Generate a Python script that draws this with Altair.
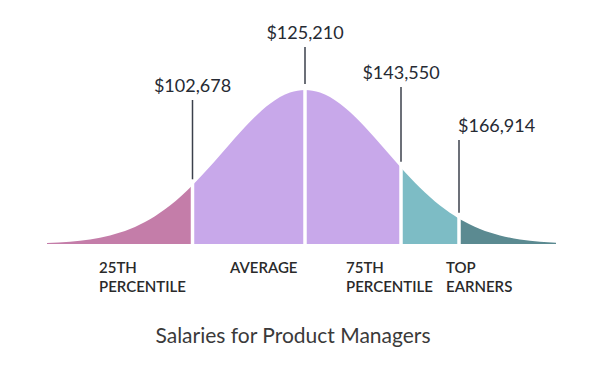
import altair as alt
import pandas as pd

# Bell curve: x position and height above the baseline
curve_x = [47, 70, 90, 110, 130, 150, 170, 192.5, 210, 230, 250, 270, 290, 305,
           320, 340, 360, 380, 401, 420, 440, 459, 480, 500, 520, 540, 556]
curve_h = [1.0, 2.3, 4.5, 8.5, 14.9, 24.7, 38.4, 58.7, 77.4, 100.3, 122.3, 140.3, 151.4, 154,
           151.4, 140.3, 122.3, 100.3, 76.3, 56.2, 38.4, 25.3, 14.9, 8.5, 4.5, 2.3, 1.3]

# Segments of the curve (start, end) and their bands
segment_names = ["p25", "avg_low", "avg_high", "p75", "top"]
segment_start = [47, 192.5, 305, 401, 459]
segment_end = [192.5, 305, 401, 459, 556]
segment_colors = ["#C47DA9", "#C8A8EA", "#C8A8EA", "#7DBCC5", "#5B8A91"]

# Markers at the boundaries
boundary_x = [192.5, 305, 401, 459]
boundary_h = [58.7, 154, 76.3, 25.3]
salary_labels = ["$102,678", "$125,210", "$143,550", "$166,914"]
marker_top = [144, 197, 157, 104]

# Category labels under the curve
category_labels = ["25TH\nPERCENTILE", "AVERAGE", "75TH\nPERCENTILE", "TOP\nEARNERS"]
category_x = [99, 230, 346, 446]

title_text = "Salaries for Product Managers"

rows = []
for name, s, e in zip(segment_names, segment_start, segment_end):
    for x, h in zip(curve_x, curve_h):
        if s <= x <= e:
            rows.append({"seg": name, "x": float(x), "h": float(h)})
curve_df = pd.DataFrame(rows)

marks_df = pd.DataFrame({
    "x": boundary_x,
    "h": boundary_h,
    "label": salary_labels,
    "top": marker_top,
})
cat_df = pd.DataFrame({"x": category_x, "label": category_labels})
title_df = pd.DataFrame({"t": [title_text]})

xs = alt.Scale(domain=[8, 592], nice=False, zero=False)
ys = alt.Scale(domain=[-114, 236], nice=False, zero=False)
FONT = "Lato"

area = alt.Chart(curve_df).mark_area(interpolate="monotone", opacity=1).encode(
    x=alt.X("x:Q", scale=xs, axis=None),
    y=alt.Y("h:Q", scale=ys, axis=None, stack=None),
    color=alt.Color("seg:N", scale=alt.Scale(domain=segment_names, range=segment_colors), legend=None),
)

base_m = alt.Chart(marks_df)

gaps = base_m.transform_calculate(
    ht="datum.h + 3", lo="-1"
).mark_rule(color="white", strokeWidth=3.5).encode(
    x=alt.X("x:Q", scale=xs, axis=None),
    y=alt.Y("lo:Q", scale=ys, axis=None),
    y2=alt.Y2("ht:Q"),
)

lines = base_m.transform_calculate(
    lb="datum.h + 6"
).mark_rule(color="#3b404b", strokeWidth=1.5).encode(
    x=alt.X("x:Q", scale=xs, axis=None),
    y=alt.Y("top:Q", scale=ys, axis=None),
    y2=alt.Y2("lb:Q"),
)

vals_c = base_m.transform_filter("datum.x < 450").mark_text(
    font=FONT, fontSize=18, color="#262a33", align="center", baseline="alphabetic", dy=-8
).encode(x=alt.X("x:Q", scale=xs, axis=None), y=alt.Y("top:Q", scale=ys, axis=None), text="label:N")

vals_l = base_m.transform_filter("datum.x >= 450").mark_text(
    font=FONT, fontSize=18, color="#262a33", align="left", baseline="alphabetic", dy=-8, dx=-1
).encode(x=alt.X("x:Q", scale=xs, axis=None), y=alt.Y("top:Q", scale=ys, axis=None), text="label:N")

cats = alt.Chart(cat_df).transform_calculate(yy="-29").mark_text(
    font=FONT, fontSize=15, fontWeight=600, color="#2a2a2a", align="left",
    baseline="alphabetic", lineBreak="\n", lineHeight=19
).encode(x=alt.X("x:Q", scale=xs, axis=None), y=alt.Y("yy:Q", scale=ys, axis=None), text="label:N")

title = alt.Chart(title_df).transform_calculate(tx="293", ty="-99").mark_text(
    font=FONT, fontSize=21, color="#3a3a3a", align="center", baseline="alphabetic"
).encode(x=alt.X("tx:Q", scale=xs, axis=None), y=alt.Y("ty:Q", scale=ys, axis=None), text="t:N")

chart = alt.layer(area, gaps, lines, vals_c, vals_l, cats, title).properties(
    width=584, height=350, padding=0,
    autosize=alt.AutoSizeParams(type="none"),
).configure_view(stroke=None)

chart.save("out.html", embed_options={"renderer": "svg", "actions": False})
